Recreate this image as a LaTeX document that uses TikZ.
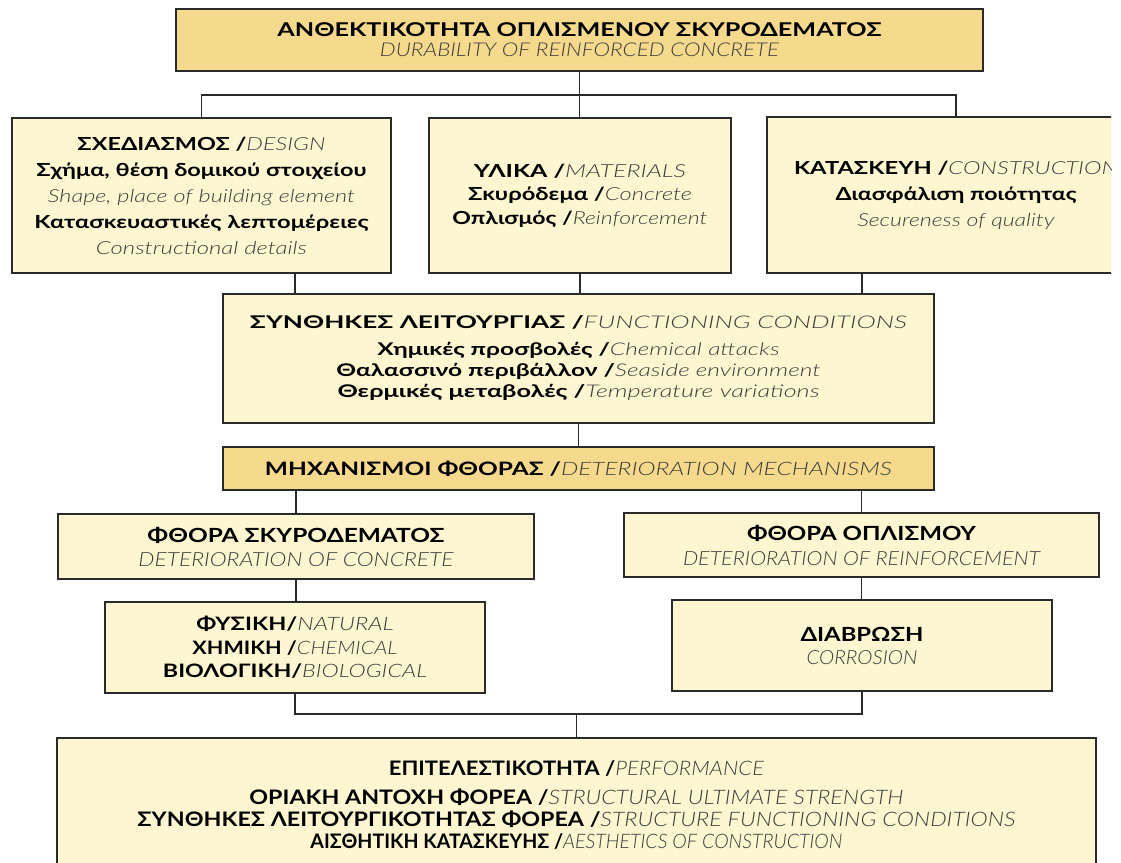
\documentclass[tikz,border=0pt]{standalone}
\usepackage{fontspec}
\setmainfont{Lato}[ItalicFont={Lato Light Italic}]
\usepackage{graphicx}
\definecolor{paleY}{HTML}{FDF6D0}
\definecolor{darkY}{HTML}{F5DA8E}
\definecolor{edge}{HTML}{2A2A2A}
\definecolor{engray}{HTML}{3C3C3C}
\newcommand{\gk}[1]{{\bfseries #1}}
\newcommand{\en}[1]{{\itshape\color{engray}#1}}
\newcommand{\fw}[2]{\resizebox{#1pt}{\height}{#2}}
\begin{document}
\begin{tikzpicture}[x=1pt,y=-1pt,
  box/.style={draw=edge, line width=1.6pt, fill=paleY, inner sep=0pt, align=center, text=black},
  hbox/.style={box, fill=darkY},
  link/.style={draw=edge, line width=1.4pt}]
\fill[white] (0,0) rectangle (1121,862);
\useasboundingbox (0,0) rectangle (1121,862);

% top
\node[hbox, minimum width=807pt, minimum height=62pt, font=\fontsize{19}{20}\selectfont] (top) at (579.5,40)
  {\fw{604}{\gk{ΑΝΘΕΚΤΙΚΟΤΗΤΑ ΟΠΛΙΣΜΕΝΟΥ ΣΚΥΡΟΔΕΜΑΤΟΣ}}\\
   \fw{399}{\en{DURABILITY OF REINFORCED CONCRETE}}};

% design
\node[box, minimum width=379pt, minimum height=155pt, font=\fontsize{18}{26}\selectfont] (des) at (201.5,195.5)
  {\fw{248}{\gk{ΣΧΕΔΙΑΣΜΟΣ /}\en{DESIGN}}\\
   \fw{330}{\gk{Σχήμα, θέση δομικού στοιχείου}}\\
   \fw{307}{\en{Shape, place of building element}}\\
   \fw{334}{\gk{Κατασκευαστικές λεπτομέρειες}}\\
   \fw{211}{\en{Constructional details}}};

% materials
\node[box, minimum width=302pt, minimum height=155pt, font=\fontsize{18}{23.5}\selectfont] (mat) at (580,195.5)
  {\fw{212}{\gk{ΥΛΙΚΑ /}\en{MATERIALS}}\\
   \fw{224}{\gk{Σκυρόδεμα /}\en{Concrete}}\\
   \fw{255}{\gk{Οπλισμός /}\en{Reinforcement}}};

% construction and performance (clipped at the scan edge)
\begin{scope}
\clip (0,0) rectangle (1111,862);
\node[box, minimum width=378pt, minimum height=156pt, font=\fontsize{18}{26}\selectfont] (con) at (956,195)
  {\fw{324}{\gk{ΚΑΤΑΣΚΕΥΗ /}\en{CONSTRUCTION}}\\
   \fw{241}{\gk{Διασφάλιση ποιότητας}}\\
   \fw{197}{\en{Secureness of quality}}};
\node[box, minimum width=1039pt, minimum height=134pt, font=\fontsize{20}{22}\selectfont] (perf) at (576.5,805)
  {\fw{375}{\gk{ΕΠΙΤΕΛΕΣΤΙΚΟΤΗΤΑ /}\en{PERFORMANCE}}\\[7pt]
   \fw{654}{\gk{ΟΡΙΑΚΗ ΑΝΤΟΧΗ ΦΟΡΕΑ /}\en{STRUCTURAL ULTIMATE STRENGTH}}\\
   \fw{878}{\gk{ΣΥΝΘΗΚΕΣ ΛΕΙΤΟΥΡΓΙΚΟΤΗΤΑΣ ΦΟΡΕΑ /}\en{STRUCTURE FUNCTIONING CONDITIONS}}\\
   \fw{532}{\gk{ΑΙΣΘΗΤΙΚΗ ΚΑΤΑΣΚΕΥΗΣ /}\en{AESTHETICS OF CONSTRUCTION}}};
\end{scope}

% functioning conditions
\node[box, minimum width=711pt, minimum height=129pt, font=\fontsize{17.5}{21}\selectfont] (fun) at (578.5,358.5)
  {\fw{657}{\gk{ΣΥΝΘΗΚΕΣ ΛΕΙΤΟΥΡΓΙΑΣ /}\en{FUNCTIONING CONDITIONS}}\\[6pt]
   \fw{402}{\gk{Χημικές προσβολές /}\en{Chemical attacks}}\\
   \fw{484}{\gk{Θαλασσινό περιβάλλον /}\en{Seaside environment}}\\
   \fw{482}{\gk{Θερμικές μεταβολές /}\en{Temperature variations}}};

% mechanisms
\node[hbox, minimum width=711pt, minimum height=43pt, font=\fontsize{18.5}{20}\selectfont] (mech) at (578.5,468.5)
  {\fw{627}{\gk{ΜΗΧΑΝΙΣΜΟΙ ΦΘΟΡΑΣ /}\en{DETERIORATION MECHANISMS}}};

% deterioration of concrete / reinforcement
\node[box, minimum width=476pt, minimum height=65pt, font=\fontsize{19.5}{24}\selectfont] (conc) at (296,546.5)
  {\fw{297}{\gk{ΦΘΟΡΑ ΣΚΥΡΟΔΕΜΑΤΟΣ}}\\
   \fw{315}{\en{DETERIORATION OF CONCRETE}}};
\node[box, minimum width=475pt, minimum height=64pt, font=\fontsize{19.5}{25}\selectfont] (reinf) at (861.5,545)
  {\fw{229}{\gk{ΦΘΟΡΑ ΟΠΛΙΣΜΟΥ}}\\
   \fw{357}{\en{DETERIORATION OF REINFORCEMENT}}};

% natural etc / corrosion
\node[box, minimum width=380pt, minimum height=91pt, font=\fontsize{18.5}{23.5}\selectfont] (nat) at (295,647.5)
  {\fw{197}{\gk{ΦΥΣΙΚΗ/}\en{NATURAL}}\\
   \fw{205}{\gk{ΧΗΜΙΚΗ /}\en{CHEMICAL}}\\
   \fw{264}{\gk{ΒΙΟΛΟΓΙΚΗ/}\en{BIOLOGICAL}}};
\node[box, minimum width=380pt, minimum height=91pt, font=\fontsize{19.5}{23}\selectfont] (cor) at (862,645.5)
  {\fw{123}{\gk{ΔΙΑΒΡΩΣΗ}}\\
   \fw{111}{\en{CORROSION}}};

% helper coordinates
\coordinate (bus) at (0,95);
\coordinate (xa) at (295,0);
\coordinate (xc) at (862,0);
\coordinate (join) at (0,714);

% connectors
\draw[link] (top.south) -- (top.south |- mat.north);
\draw[link] (des.north) |- (con.north |- bus) -- (con.north);
\draw[link] (des.south -| xa) -- (fun.north -| xa);
\draw[link] (mat.south) -- (mat.south |- fun.north);
\draw[link] (con.south -| xc) -- (fun.north -| xc);
\draw[link] (fun.south) -- (mech.north);
\draw[link] (conc.north |- mech.south) -- (conc.north);
\draw[link] (reinf.north |- mech.south) -- (reinf.north);
\draw[link] (conc.south) -- (conc.south |- nat.north);
\draw[link] (reinf.south) -- (reinf.south |- cor.north);
\draw[link] (nat.south) -- (nat.south |- join) -- (cor.south |- join) -- (cor.south);
\draw[link] (perf.north |- join) -- (perf.north);
\end{tikzpicture}
\end{document}
